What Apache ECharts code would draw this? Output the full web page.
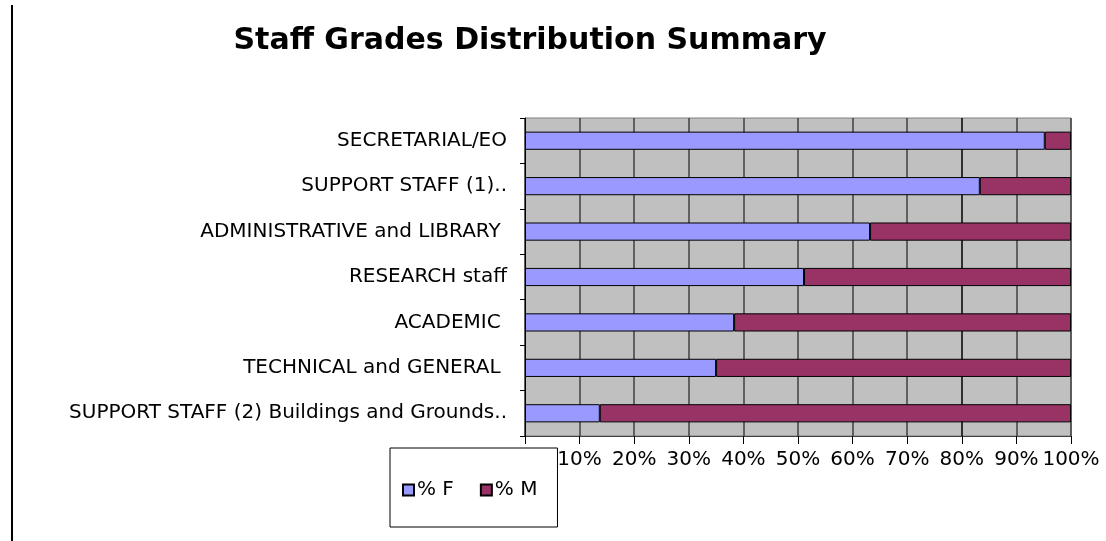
<!DOCTYPE html>
<html><head><meta charset="utf-8">
<script src="https://cdn.jsdelivr.net/npm/echarts@6/dist/echarts.min.js"></script>
<style>html,body{margin:0;padding:0;background:#fff}#c{width:1106px;height:541px}</style>
</head><body><div id="c"></div>
<script>
const categories = ["SECRETARIAL/EO", "SUPPORT STAFF (1)..", "ADMINISTRATIVE and LIBRARY ", "RESEARCH staff", "ACADEMIC ", "TECHNICAL and GENERAL ", "SUPPORT STAFF (2) Buildings and Grounds.."];
const pctF = [95.2, 83.3, 63.2, 51.1, 38.3, 35.0, 13.7];
const pctM = [4.8, 16.7, 36.8, 48.9, 61.7, 65.0, 86.3];
const seriesNames = ["% F", "% M"];

const chart = echarts.init(document.getElementById('c'), null, {renderer: 'canvas'});
const font = '"DejaVu Sans", sans-serif';
const gridLineColors = ['#404040','#404040','#404040','#404040','#404040','#404040','#404040','#404040','#000000','#404040','#404040'];
chart.setOption({
  animation: false,
  backgroundColor: '#ffffff',
  title: {
    text: 'Staff Grades Distribution Summary',
    left: 525, top: 21, textAlign: 'center',
    textStyle: {fontFamily: font, fontSize: 30, fontWeight: 'bold', color: '#000'}
  },
  graphic: [{
    type: 'line', shape: {x1: 12, y1: 5, x2: 12, y2: 541},
    style: {stroke: '#000', lineWidth: 2}
  }],
  legend: {
    data: seriesNames,
    left: 390, top: 448,
    padding: [32, 20, 27, 12],
    itemGap: 26,
    itemWidth: 11, itemHeight: 11,
    backgroundColor: '#ffffff',
    borderColor: '#000', borderWidth: 1,
    icon: 'rect',
    z: 10,
    textStyle: {fontFamily: font, fontSize: 20, color: '#000', padding: [0,0,0,-2]}
  },
  grid: {
    left: 525, right: 35, top: 118, bottom: 105,
    show: true, backgroundColor: '#c0c0c0', borderColor: '#808080', borderWidth: 1
  },
  xAxis: {
    type: 'value', min: 0, max: 100, interval: 10,
    axisLine: {show: true, lineStyle: {color: '#404040'}},
    axisTick: {show: true, length: 8, lineStyle: {color: '#000'}},
    axisLabel: {formatter: '{value}%', fontFamily: font, fontSize: 20, color: '#000', margin: 14},
    splitLine: {show: true, lineStyle: {color: gridLineColors, width: 1.5}}
  },
  yAxis: {
    type: 'category', data: categories, inverse: true,
    axisLine: {show: true, lineStyle: {color: '#000'}},
    axisTick: {show: true, length: 5, lineStyle: {color: '#000'}},
    axisLabel: {fontFamily: font, fontSize: 20, color: '#000', margin: 18}
  },
  series: [
    {name: seriesNames[0], type: 'bar', stack: 's', data: pctF, barWidth: '40%',
     itemStyle: {color: '#9999ff', borderColor: '#000', borderWidth: 1}},
    {name: seriesNames[1], type: 'bar', stack: 's', data: pctM, barWidth: '40%',
     itemStyle: {color: '#993366', borderColor: '#000', borderWidth: 1}}
  ]
});
</script></body></html>
